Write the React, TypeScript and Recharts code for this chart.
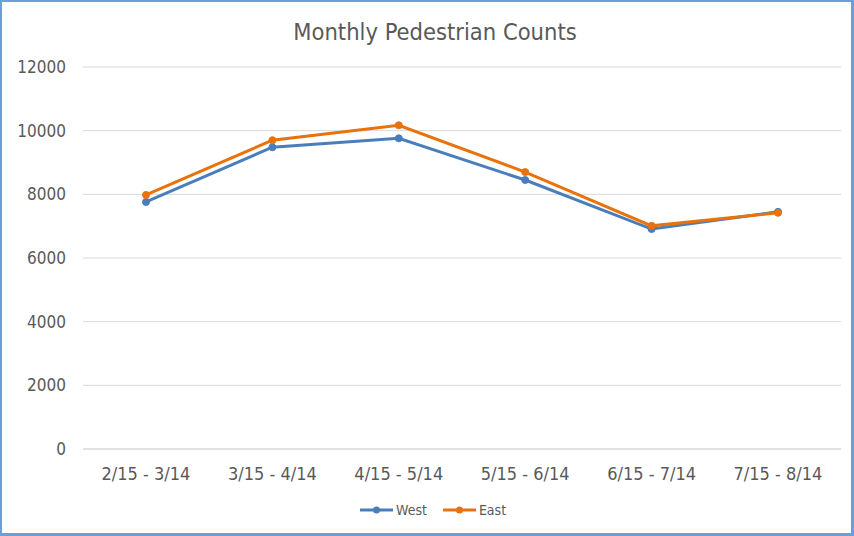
import { LineChart, Line, XAxis, YAxis, CartesianGrid } from "recharts";

const categories = ["2/15 - 3/14", "3/15 - 4/14", "4/15 - 5/14", "5/15 - 6/14", "6/15 - 7/14", "7/15 - 8/14"];
const westCounts = [7760, 9480, 9760, 8450, 6910, 7450];
const eastCounts = [7980, 9700, 10170, 8700, 7010, 7420];
const yTicks = [0, 2000, 4000, 6000, 8000, 10000, 12000];

const WEST = "#4A7EBB";
const EAST = "#E8720C";
const FONT = "'DejaVu Sans Condensed', 'DejaVu Sans', sans-serif";

const data = categories.map((name, i) => ({
  name,
  West: westCounts[i],
  East: eastCounts[i],
}));

const legendItems = [
  { label: "West", color: WEST },
  { label: "East", color: EAST },
];

function ChartLegend() {
  return (
    <div
      style={{
        position: "absolute",
        left: 358,
        top: 500,
        display: "flex",
        alignItems: "center",
        fontFamily: FONT,
        fontSize: 14,
        color: "#595959",
      }}
    >
      {legendItems.map((it) => (
        <div key={it.label} style={{ display: "flex", alignItems: "center", marginRight: 16 }}>
          <svg width={33} height={10}>
            <line x1={0} y1={5} x2={33} y2={5} stroke={it.color} strokeWidth={3} />
            <circle cx={16.5} cy={5} r={3.5} fill={it.color} />
          </svg>
          <span style={{ marginLeft: 3 }}>{it.label}</span>
        </div>
      ))}
    </div>
  );
}

export default function App() {
  return (
    <div
      style={{
        position: "absolute",
        left: 0,
        top: 0,
        width: 854,
        height: 536,
        background: "#fff",
        boxSizing: "border-box",
        border: "2px solid #6A9FD8",
        borderRightWidth: 3,
        borderBottomWidth: 3,
      }}
    >
      <div
        style={{
          position: "absolute",
          left: 0,
          width: 866,
          top: 16,
          textAlign: "center",
          fontFamily: FONT,
          fontSize: 23.5,
          color: "#595959",
        }}
      >
        Monthly Pedestrian Counts
      </div>
      <div style={{ position: "absolute", left: -2, top: -2 }}>
        <LineChart width={854} height={536} data={data} margin={{ top: 67, right: 13, bottom: 57, left: 0 }}>
          <CartesianGrid vertical={false} stroke="#D9D9D9" />
          <XAxis
            dataKey="name"
            height={30}
            padding={{ left: 63, right: 63 }}
            axisLine={{ stroke: "#D9D9D9" }}
            tickLine={false}
            tickMargin={12}
            tick={{ fill: "#595959", fontSize: 18, fontFamily: FONT }}
            interval={0}
          />
          <YAxis
            width={83}
            domain={[0, 12000]}
            ticks={yTicks}
            axisLine={false}
            tickLine={false}
            tickSize={0}
            tickMargin={17}
            tick={{ fill: "#595959", fontSize: 17, fontFamily: FONT }}
          />
          <Line
            type="linear"
            dataKey="West"
            stroke={WEST}
            strokeWidth={3}
            dot={{ r: 3.5, fill: WEST, stroke: WEST, strokeWidth: 1 }}
            isAnimationActive={false}
          />
          <Line
            type="linear"
            dataKey="East"
            stroke={EAST}
            strokeWidth={3}
            dot={{ r: 3.5, fill: EAST, stroke: EAST, strokeWidth: 1 }}
            isAnimationActive={false}
          />
        </LineChart>
      </div>
      <ChartLegend />
    </div>
  );
}
